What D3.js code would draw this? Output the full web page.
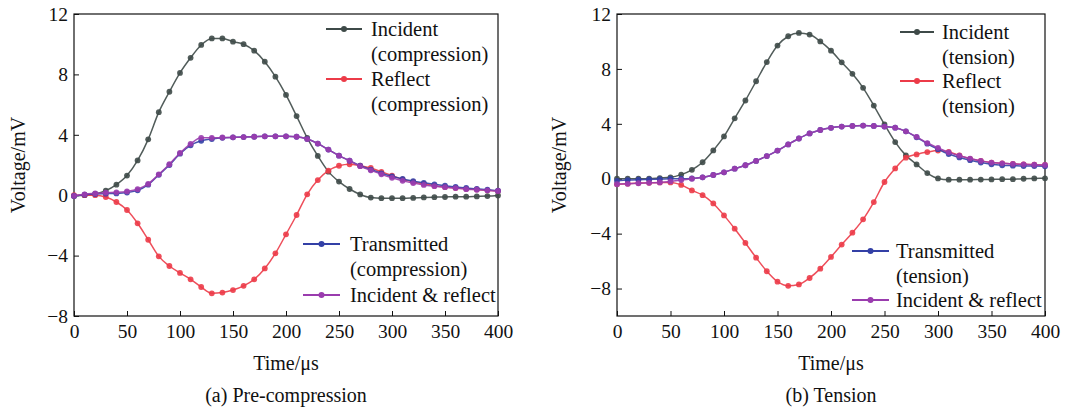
<!DOCTYPE html>
<html>
<head>
<meta charset="utf-8">
<script src="https://cdn.jsdelivr.net/npm/d3@7"></script>
<style>
  body { margin: 0; background: #fff; }
  svg text { font-family: "Liberation Serif", "Times New Roman", serif; }
</style>
</head>
<body>
<svg id="chart" width="1075" height="407"></svg>
<script>
// time samples (us)
const time = [0, 10, 20, 30, 40, 50, 60, 70, 80, 90, 100, 110, 120, 130, 140, 150, 160, 170, 180, 190, 200,
  210, 220, 230, 240, 250, 260, 270, 280, 290, 300, 310, 320, 330, 340, 350, 360, 370, 380, 390, 400]

const xTicks = [0, 50, 100, 150, 200, 250, 300, 350, 400]
const yTicks = [-8, -4, 0, 4, 8, 12]

// (a) pre-compression, mV
const compIncident = [-0.05, 0, 0.08, 0.3, 0.7, 1.3, 2.3, 3.7, 5.5, 6.85, 8.1, 9.1, 9.95, 10.38, 10.38, 10.17, 10.0, 9.57, 8.84, 7.85, 6.64,
  5.24, 3.8, 2.6, 1.56, 0.9, 0.41, 0.05, -0.16, -0.2, -0.2, -0.2, -0.18, -0.15, -0.13, -0.12, -0.1, -0.1, -0.08, -0.06, -0.02]
const compReflect = [0, 0, 0, -0.12, -0.45, -0.98, -1.86, -2.95, -4.05, -4.69, -5.15, -5.57, -6.08, -6.5, -6.45, -6.28, -6.0, -5.57, -4.85, -3.85, -2.59,
  -1.31, 0.06, 1.0, 1.62, 1.95, 2.05, 1.95, 1.8, 1.55, 1.3, 1.05, 0.88, 0.75, 0.63, 0.55, 0.48, 0.42, 0.38, 0.32, 0.27]
const compTransmitted = [-0.05, 0.03, 0.08, 0.1, 0.12, 0.18, 0.32, 0.7, 1.35, 2.0, 2.75, 3.3, 3.6, 3.72, 3.8, 3.83, 3.85, 3.87, 3.9, 3.9, 3.9,
  3.87, 3.72, 3.42, 3.02, 2.62, 2.28, 1.95, 1.7, 1.45, 1.25, 1.08, 0.93, 0.82, 0.72, 0.63, 0.55, 0.48, 0.42, 0.36, 0.3]
const compSum = [-0.05, 0.06, 0.12, 0.17, 0.19, 0.25, 0.4, 0.75, 1.38, 2.05, 2.8, 3.4, 3.8, 3.8, 3.82, 3.83, 3.85, 3.87, 3.9, 3.9, 3.9,
  3.87, 3.72, 3.42, 3.02, 2.62, 2.28, 1.92, 1.65, 1.38, 1.15, 0.95, 0.8, 0.68, 0.6, 0.53, 0.47, 0.4, 0.36, 0.32, 0.28]

// (b) tension, mV
const tensIncident = [0, 0, 0, 0, 0.05, 0.1, 0.3, 0.65, 1.2, 2.06, 3.08, 4.4, 5.7, 7.1, 8.5, 9.7, 10.38, 10.62, 10.5, 10.0, 9.33,
  8.48, 7.64, 6.62, 5.33, 3.95, 2.67, 1.7, 1.04, 0.41, 0.02, -0.07, -0.07, -0.07, -0.06, -0.05, -0.03, -0.03, 0, 0.02, 0.03]
const tensReflect = [-0.4, -0.36, -0.32, -0.3, -0.27, -0.27, -0.45, -0.85, -1.2, -1.8, -2.67, -3.64, -4.68, -5.75, -6.74, -7.5, -7.8, -7.7, -7.23, -6.55, -5.7,
  -4.8, -3.93, -2.96, -1.7, -0.24, 0.75, 1.53, 1.77, 1.94, 2.05, 1.95, 1.7, 1.45, 1.3, 1.18, 1.12, 1.08, 1.05, 1.02, 1.0]
const tensTransmitted = [-0.15, -0.1, -0.07, -0.05, -0.03, 0, 0, 0.02, 0.1, 0.27, 0.47, 0.73, 0.98, 1.3, 1.65, 2.05, 2.5, 2.93, 3.3, 3.55, 3.71,
  3.8, 3.85, 3.87, 3.85, 3.8, 3.72, 3.45, 3.02, 2.55, 2.15, 1.8, 1.55, 1.35, 1.18, 1.05, 0.98, 0.95, 0.92, 0.92, 0.9]
const tensSum = [-0.4, -0.37, -0.33, -0.3, -0.27, -0.2, -0.1, 0, 0.1, 0.27, 0.47, 0.73, 0.98, 1.3, 1.65, 2.05, 2.5, 2.93, 3.3, 3.55, 3.71,
  3.8, 3.85, 3.87, 3.85, 3.8, 3.72, 3.45, 3.05, 2.6, 2.25, 1.92, 1.68, 1.47, 1.3, 1.18, 1.12, 1.08, 1.05, 1.02, 1.0]

const colors = {incident: '#3e4a48', reflect: '#ec3b48', transmitted: '#3340a6', sum: '#9a3cae'}
const font = '"Liberation Serif", "Times New Roman", serif'

const svg = d3.select('#chart')

function drawPanel (p) {
  const x = d3.scaleLinear().domain([0, 400]).range(p.xRange)
  const y = d3.scaleLinear().domain(p.yDomain).range([316, 14])
  const g = svg.append('g')

  // axes with inward ticks
  const xAxis = g.append('g')
    .attr('transform', 'translate(0,316)')
    .call(d3.axisBottom(x).tickValues(xTicks).tickSize(-5).tickPadding(8))
  const yAxis = g.append('g')
    .attr('transform', `translate(${p.xRange[0]},0)`)
    .call(d3.axisLeft(y).tickValues(yTicks).tickSize(-5).tickPadding(6))
  ;[xAxis, yAxis].forEach(a => {
    a.attr('font-family', font).attr('font-size', 19.5)
    a.select('.domain').remove()
    a.selectAll('text').attr('fill', '#111')
    a.selectAll('line').attr('stroke', '#111')
  })

  // frame
  g.append('rect')
    .attr('x', p.xRange[0]).attr('y', 14)
    .attr('width', p.xRange[1] - p.xRange[0]).attr('height', 302)
    .attr('fill', 'none').attr('stroke', '#111').attr('stroke-width', 1.2)

  const line = d3.line()
    .x((d, i) => x(time[i]))
    .y(d => y(d))
    .curve(d3.curveMonotoneX)

  p.series.forEach(s => {
    g.append('path')
      .datum(s.values)
      .attr('d', line)
      .attr('fill', 'none')
      .attr('stroke', s.color)
      .attr('stroke-width', 1.5)
      .attr('stroke-opacity', 0.9)
    g.selectAll(null)
      .data(s.values)
      .enter()
      .append('circle')
      .attr('cx', (d, i) => x(time[i]))
      .attr('cy', d => y(d))
      .attr('r', 2.9)
      .attr('fill', s.color)
      .attr('fill-opacity', 0.9)
  })

  // legend
  p.legend.forEach(l => {
    g.append('line')
      .attr('x1', l.x1).attr('x2', l.x2).attr('y1', l.y).attr('y2', l.y)
      .attr('stroke', l.color).attr('stroke-width', 2)
    g.append('circle')
      .attr('cx', (l.x1 + l.x2) / 2).attr('cy', l.y).attr('r', 3)
      .attr('fill', l.color)
    l.lines.forEach((t, i) => {
      g.append('text')
        .attr('x', l.tx).attr('y', l.y + 7 + i * 25)
        .attr('font-family', font).attr('font-size', 20.5).attr('fill', '#111')
        .text(t)
    })
  })

  // axis titles
  g.append('text')
    .attr('x', (p.xRange[0] + p.xRange[1]) / 2).attr('y', 370)
    .attr('text-anchor', 'middle').attr('font-family', font).attr('font-size', 20).attr('fill', '#111')
    .text('Time/μs')
  g.append('text')
    .attr('transform', `translate(${p.yLabelX},165) rotate(-90)`)
    .attr('text-anchor', 'middle').attr('font-family', font).attr('font-size', 20).attr('fill', '#111')
    .text('Voltage/mV')
  g.append('text')
    .attr('x', (p.xRange[0] + p.xRange[1]) / 2).attr('y', 402)
    .attr('text-anchor', 'middle').attr('font-family', font).attr('font-size', 20).attr('fill', '#111')
    .text(p.caption)
}

drawPanel({
  xRange: [74, 498],
  yDomain: [-8, 12],
  yLabelX: 25,
  caption: '(a) Pre-compression',
  series: [
    {values: compIncident, color: colors.incident},
    {values: compReflect, color: colors.reflect},
    {values: compTransmitted, color: colors.transmitted},
    {values: compSum, color: colors.sum}
  ],
  legend: [
    {x1: 326, x2: 362, tx: 371, y: 29, color: colors.incident, lines: ['Incident', '(compression)']},
    {x1: 326, x2: 362, tx: 371, y: 79, color: colors.reflect, lines: ['Reflect', '(compression)']},
    {x1: 303, x2: 340, tx: 350, y: 244, color: colors.transmitted, lines: ['Transmitted', '(compression)']},
    {x1: 303, x2: 340, tx: 350, y: 295, color: colors.sum, lines: ['Incident & reflect']}
  ]
})

drawPanel({
  xRange: [617, 1045],
  yDomain: [-10, 12],
  yLabelX: 566,
  caption: '(b) Tension',
  series: [
    {values: tensIncident, color: colors.incident},
    {values: tensReflect, color: colors.reflect},
    {values: tensTransmitted, color: colors.transmitted},
    {values: tensSum, color: colors.sum}
  ],
  legend: [
    {x1: 900, x2: 934, tx: 942, y: 32, color: colors.incident, lines: ['Incident', '(tension)']},
    {x1: 900, x2: 934, tx: 942, y: 81, color: colors.reflect, lines: ['Reflect', '(tension)']},
    {x1: 852, x2: 889, tx: 896, y: 251, color: colors.transmitted, lines: ['Transmitted', '(tension)']},
    {x1: 852, x2: 889, tx: 896, y: 300, color: colors.sum, lines: ['Incident & reflect']}
  ]
})
</script>
</body>
</html>
